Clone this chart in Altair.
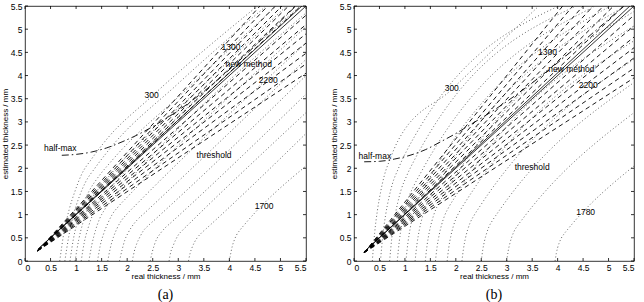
import altair as alt
import pandas as pd

TICKS = [0, 0.5, 1, 1.5, 2, 2.5, 3, 3.5, 4, 4.5, 5, 5.5]

# ---- panel (a): threshold curves (dotted)
A_THRESHOLD = [
    [(0.68, 0), (0.76, 0.6), (0.86, 1.09), (0.98, 1.51), (1.10, 1.85), (1.31, 2.21), (1.58, 2.6), (2.48, 3.55), (4.55, 5.5)],
    [(0.78, 0), (0.86, 0.55), (0.95, 1.0), (1.06, 1.38), (1.18, 1.69), (1.38, 2.02), (1.63, 2.38), (3.0, 3.83), (4.72, 5.5)],
    [(0.88, 0), (0.95, 0.49), (1.04, 0.9), (1.14, 1.24), (1.26, 1.52), (1.44, 1.82), (1.68, 2.14), (3.2, 3.74), (4.92, 5.5)],
    [(0.98, 0), (1.05, 0.45), (1.13, 0.81), (1.23, 1.13), (1.33, 1.38), (1.51, 1.65), (1.73, 1.94), (3.4, 3.7), (5.12, 5.5)],
    [(1.10, 0), (1.16, 0.4), (1.24, 0.73), (1.33, 1.01), (1.43, 1.24), (1.59, 1.48), (1.80, 1.74), (5.39, 5.5)],
    [(1.25, 0), (1.31, 0.36), (1.38, 0.66), (1.46, 0.91), (1.56, 1.11), (1.71, 1.33), (1.90, 1.57), (5.5, 5.35)],
    [(1.42, 0), (1.47, 0.32), (1.54, 0.59), (1.62, 0.81), (1.70, 0.99), (1.84, 1.19), (2.02, 1.4), (5.5, 5.05)],
    [(1.62, 0), (1.67, 0.28), (1.73, 0.51), (1.80, 0.70), (1.88, 0.86), (2.01, 1.03), (2.17, 1.21), (5.5, 4.7)],
    [(1.85, 0), (1.90, 0.24), (1.95, 0.44), (2.02, 0.61), (2.09, 0.74), (2.20, 0.89), (2.35, 1.045), (5.5, 4.35)],
    [(2.10, 0), (2.14, 0.21), (2.19, 0.38), (2.25, 0.52), (2.31, 0.64), (2.42, 0.77), (2.55, 0.9), (5.5, 4.0)],
    [(2.45, 0), (2.49, 0.19), (2.53, 0.34), (2.58, 0.48), (2.64, 0.58), (2.73, 0.70), (2.85, 0.82), (5.5, 3.6)],
    [(2.82, 0), (2.85, 0.18), (2.90, 0.33), (2.95, 0.46), (3.0, 0.56), (3.09, 0.67), (3.2, 0.79), (5.5, 3.2)],
    [(3.2, 0), (3.23, 0.16), (3.27, 0.29), (3.32, 0.41), (3.37, 0.50), (3.45, 0.60), (3.55, 0.70), (5.5, 2.75)],
    [(4.0, 0), (4.03, 0.18), (4.06, 0.33), (4.10, 0.46), (4.14, 0.56), (4.21, 0.67), (4.3, 0.79), (5.5, 2.05)],
]

# ---- panel (b): threshold curves (dotted)
B_THRESHOLD = [
    [(0.36, 0), (0.405, 0.6), (0.46, 1.09), (0.525, 1.5), (0.595, 1.84), (0.71, 2.2), (0.86, 2.585), (1.92, 3.70), (3.63, 5.5)],
    [(0.52, 0), (0.565, 0.54), (0.62, 0.985), (0.685, 1.36), (0.755, 1.665), (0.87, 1.99), (1.02, 2.345), (4.02, 5.5)],
    [(0.70, 0), (0.743, 0.5), (0.796, 0.91), (0.858, 1.255), (0.926, 1.536), (1.036, 1.84), (1.18, 2.164), (4.36, 5.5)],
    [(0.85, 0), (0.891, 0.437), (0.942, 0.8), (1.002, 1.1), (1.066, 1.35), (1.172, 1.615), (1.31, 1.9), (4.74, 5.5)],
    [(1.02, 0), (1.06, 0.4), (1.108, 0.73), (1.165, 1.01), (1.227, 1.235), (1.328, 1.48), (1.46, 1.74), (5.04, 5.5)],
    [(1.20, 0), (1.238, 0.37), (1.284, 0.676), (1.339, 0.934), (1.397, 1.143), (1.494, 1.37), (1.62, 1.61), (5.33, 5.5)],
    [(1.40, 0), (1.436, 0.344), (1.48, 0.628), (1.532, 0.867), (1.588, 1.061), (1.68, 1.271), (1.80, 1.495), (5.5, 5.38)],
    [(1.60, 0), (1.634, 0.316), (1.676, 0.577), (1.725, 0.797), (1.779, 0.976), (1.866, 1.168), (1.98, 1.374), (5.5, 5.07)],
    [(1.83, 0), (1.862, 0.293), (1.902, 0.536), (1.949, 0.74), (2.0, 0.905), (2.082, 1.084), (2.19, 1.275), (5.5, 4.75)],
    [(2.12, 0), (2.151, 0.266), (2.188, 0.486), (2.232, 0.671), (2.28, 0.821), (2.358, 0.983), (2.46, 1.157), (5.5, 4.35)],
    [(2.50, 0), (2.529, 0.238), (2.564, 0.435), (2.606, 0.601), (2.65, 0.736), (2.724, 0.881), (2.82, 1.036), (5.5, 3.85)],
    [(3.0, 0), (3.027, 0.205), (3.06, 0.374), (3.099, 0.516), (3.141, 0.632), (3.21, 0.757), (3.3, 0.89), (5.5, 3.2)],
    [(3.95, 0), (3.973, 0.158), (4.0, 0.288), (4.033, 0.397), (4.068, 0.486), (4.125, 0.582), (4.2, 0.685), (5.5, 2.05)],
]

# ---- new method (dashed) lines: common start, end points on the frame
A_NEW_START = (0.25, 0.22)
A_NEW_ENDS = [(4.6, 5.5), (4.75, 5.5), (4.9, 5.5), (5.03, 5.5), (5.16, 5.5), (5.29, 5.5), (5.4, 5.5),
              (5.5, 5.3), (5.5, 5.1), (5.5, 4.9), (5.5, 4.7), (5.5, 4.48), (5.5, 4.25), (5.5, 4.05)]
B_NEW_START = (0.2, 0.18)
B_NEW_ENDS = [(4.1, 5.5), (4.3, 5.5), (4.5, 5.5), (4.7, 5.5), (4.9, 5.5), (5.1, 5.5), (5.3, 5.5),
              (5.5, 5.3), (5.5, 5.07), (5.5, 4.83), (5.5, 4.6), (5.5, 4.38), (5.5, 4.16), (5.5, 3.95)]

# ---- solid lines (ideal)
A_SOLID = [[(0.25, 0.25), (5.5, 5.5)], [(0.25, 0.25), (5.42, 5.5)]]
B_SOLID = [[(0.2, 0.2), (5.5, 5.5)], [(0.2, 0.2), (5.42, 5.5)]]

# ---- half-max (dash-dot)
A_HALFMAX = [(0.72, 2.28), (1.0, 2.3), (1.3, 2.35), (1.6, 2.44), (1.9, 2.57), (2.2, 2.72), (2.5, 2.9), (2.8, 3.1), (5.3, 5.5)]
B_HALFMAX = [(0.2, 2.14), (0.5, 2.15), (0.8, 2.2), (1.1, 2.28), (1.4, 2.4), (1.7, 2.57), (2.0, 2.75), (2.3, 2.95), (2.6, 3.15), (5.3, 5.5)]

# ---- labels
A_LABELS = [("half-max", 0.69, 2.43), ("threshold", 3.7, 2.28), ("new method", 4.38, 4.25),
            ("300", 2.48, 3.58), ("1300", 4.03, 4.61), ("2200", 4.76, 3.9), ("1700", 4.68, 1.19)]
B_LABELS = [("half-max", 0.41, 2.27), ("threshold", 3.5, 2.02), ("new method", 4.27, 4.14),
            ("300", 1.92, 3.73), ("1300", 3.8, 4.51), ("2200", 4.6, 3.8), ("1780", 4.55, 1.05)]

FONT = "Liberation Sans"
H = 255


def curves_df(curves):
    rows = []
    for c, pts in enumerate(curves):
        for o, (x, y) in enumerate(pts):
            rows.append({"c": c, "o": o, "x": x, "y": y})
    return pd.DataFrame(rows)


def x_enc():
    return alt.X("x:Q", scale=alt.Scale(domain=[0, 5.5], nice=False, zero=False),
                 axis=alt.Axis(values=TICKS, format="~g", title="real thickness / mm",
                               labelPadding=2, titlePadding=1, minExtent=0,
                               titleFontWeight="normal"))


def y_enc():
    return alt.Y("y:Q", scale=alt.Scale(domain=[0, 5.5], nice=False, zero=False),
                 axis=alt.Axis(values=TICKS, format="~g", title="estimated thickness / mm",
                               labelPadding=3, titlePadding=1, minExtent=0,
                               titleFontWeight="normal"))


def panel(thr, new_start, new_ends, solid, halfmax, labels, width, tag):
    dotted = alt.Chart(curves_df(thr)).mark_line(
        color="#555555", strokeWidth=0.9, strokeDash=[1, 2.4], interpolate="monotone", clip=True
    ).encode(x=x_enc(), y=y_enc(), detail="c:N", order="o:Q")

    dashed = alt.Chart(curves_df([[new_start, e] for e in new_ends])).mark_line(
        color="black", strokeWidth=0.9, strokeDash=[4.5, 3.5], clip=True
    ).encode(x=x_enc(), y=y_enc(), detail="c:N", order="o:Q")

    sol = alt.Chart(curves_df(solid)).mark_line(
        color="black", strokeWidth=0.8, clip=True
    ).encode(x=x_enc(), y=y_enc(), detail="c:N", order="o:Q")

    hm = alt.Chart(curves_df([halfmax])).mark_line(
        color="black", strokeWidth=0.9, strokeDash=[7, 3, 1.5, 3], interpolate="monotone", clip=True
    ).encode(x=x_enc(), y=y_enc(), order="o:Q")

    lab_df = pd.DataFrame([{"t": t, "x": x, "y": y} for t, x, y in labels])
    txt = alt.Chart(lab_df).mark_text(font=FONT, fontSize=8.5, color="black").encode(
        x=x_enc(), y=y_enc(), text="t:N")

    tdf_x = pd.DataFrame({"x": TICKS})
    tdf_y = pd.DataFrame({"y": TICKS})
    tb = alt.Chart(tdf_x).mark_rule(color="black", strokeWidth=0.8).encode(
        x=x_enc(), y=alt.value(H), y2=alt.value(H - 3))
    tt = alt.Chart(tdf_x).mark_rule(color="black", strokeWidth=0.8).encode(
        x=x_enc(), y=alt.value(0), y2=alt.value(3))
    tl = alt.Chart(tdf_y).mark_rule(color="black", strokeWidth=0.8).encode(
        y=y_enc(), x=alt.value(0), x2=alt.value(3))
    tr = alt.Chart(tdf_y).mark_rule(color="black", strokeWidth=0.8).encode(
        y=y_enc(), x=alt.value(width), x2=alt.value(width - 3))

    return alt.layer(dotted, dashed, sol, hm, txt, tb, tt, tl, tr).properties(
        width=width, height=H,
        title=alt.TitleParams(tag, orient="bottom", font="Liberation Serif", fontSize=14,
                              fontWeight="normal", offset=7, frame="group", anchor="middle",
                              color="black"),
    )


pa = panel(A_THRESHOLD, A_NEW_START, A_NEW_ENDS, A_SOLID, A_HALFMAX, A_LABELS, 281, "(a)")
pb = panel(B_THRESHOLD, B_NEW_START, B_NEW_ENDS, B_SOLID, B_HALFMAX, B_LABELS, 280, "(b)")

chart = alt.hconcat(pa, pb, spacing=22).properties(
    padding={"left": 0, "top": 1, "right": 1, "bottom": 0},
    background="white",
).configure_view(stroke="black", strokeWidth=0.8).configure_axis(
    labelFont=FONT, labelFontSize=8.5, labelColor="black",
    titleFont=FONT, titleFontSize=8, titleFontWeight="normal", titleColor="black",
    grid=False, ticks=False, domain=False
)

chart.save("out.html", embed_options={"renderer": "svg", "actions": False})
